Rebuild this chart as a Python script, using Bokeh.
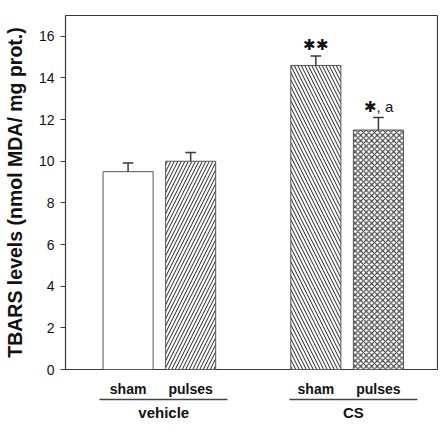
from bokeh.plotting import figure
from bokeh.models import Range1d, FixedTicker, ColumnDataSource, LinearAxis
from bokeh.core.properties import value
from bokeh.embed import file_html
from bokeh.resources import INLINE

# ---- data ----
treatments = ["sham", "pulses", "sham", "pulses"]
groups = ["vehicle", "CS"]
x_pos = [1, 2, 4, 5]
group_x = [1.57, 4.6]
group_span = [(0.55, 2.59), (3.58, 5.62)]
tbars = [9.5, 10.0, 14.6, 11.5]
sem = [0.42, 0.42, 0.45, 0.6]
hatches = [" ", "right_diagonal_line", "left_diagonal_line", "diagonal_cross"]
hatch_scales = [7, 7, 7, 5.5]
sig_labels = ["", "", "\u2731\u2731", "\u2731, a"]
y_ticks = [0, 2, 4, 6, 8, 10, 12, 14, 16]
y_label = "TBARS levels (nmol MDA/ mg prot.)"

FONT = "Liberation Sans"
GREY = "#3a3a3a"
TXT = "#111111"

p = figure(width=438, height=423, output_backend="svg", toolbar_location=None,
           x_range=Range1d(0, 5.96), y_range=Range1d(0, 17),
           min_border_left=65, min_border_right=0, min_border_top=15, min_border_bottom=54)
p.outline_line_color = GREY
p.outline_line_width = 1.2
p.grid.visible = False
p.background_fill_color = "white"
p.border_fill_color = "white"

# y axis
yax = p.yaxis[0]
yax.ticker = FixedTicker(ticks=y_ticks)
yax.axis_line_color = GREY
yax.major_tick_line_color = GREY
yax.major_tick_in = 0
yax.major_tick_out = 5
yax.minor_tick_line_color = None
yax.major_label_text_font = FONT
yax.major_label_text_font_size = "14px"
yax.major_label_text_color = TXT
yax.major_label_standoff = 6
yax.axis_label = y_label
yax.axis_label_text_font = FONT
yax.axis_label_text_font_style = "bold"
yax.axis_label_text_font_size = "19.5px"
yax.axis_label_text_color = TXT
yax.axis_label_standoff = 10

# x axis: treatment names
xax = p.xaxis[0]
xax.ticker = FixedTicker(ticks=x_pos)
xax.major_label_overrides = {x: t for x, t in zip(x_pos, treatments)}
xax.axis_line_color = None
xax.major_tick_line_color = None
xax.major_tick_in = 0
xax.major_tick_out = 0
xax.minor_tick_line_color = None
xax.major_label_standoff = 11
xax.major_label_text_font = FONT
xax.major_label_text_font_style = "bold"
xax.major_label_text_font_size = "14px"
xax.major_label_text_color = TXT

# group underlines (axis rules bounded to each group)
for span in group_span:
    ax = LinearAxis(ticker=FixedTicker(ticks=[]), bounds=span, axis_line_color="#444444",
                    axis_line_width=1.5, major_tick_line_color=None, minor_tick_line_color=None,
                    major_tick_in=0, major_tick_out=0, minor_tick_out=0, major_label_standoff=0,
                    major_label_text_font_size="0px")
    p.add_layout(ax, "below")

# group names
gax = LinearAxis(ticker=FixedTicker(ticks=group_x),
                 major_label_overrides={x: g for x, g in zip(group_x, groups)},
                 axis_line_color=None, major_tick_line_color=None, minor_tick_line_color=None,
                 major_tick_in=0, major_tick_out=0, minor_tick_out=0, major_label_standoff=4,
                 major_label_text_font=FONT, major_label_text_font_style="bold",
                 major_label_text_font_size="15px", major_label_text_color=TXT)
p.add_layout(gax, "below")

src = ColumnDataSource(dict(x=x_pos, top=tbars, err=[t + s for t, s in zip(tbars, sem)],
                            hatch=hatches, hs=hatch_scales, sig=sig_labels,
                            cl=[x - 0.085 for x in x_pos], cr=[x + 0.085 for x in x_pos],
                            sigy=[t + s + 0.55 for t, s in zip(tbars, sem)]))

p.vbar(x="x", top="top", bottom=0, width=0.8, source=src, fill_color="white",
       line_color="#555555", line_width=1, hatch_pattern="hatch",
       hatch_color="#222222", hatch_scale="hs", hatch_weight=1)

# error bars (upper only)
p.segment(x0="x", y0="top", x1="x", y1="err", source=src, line_color=GREY, line_width=1.5)
p.segment(x0="cl", y0="err", x1="cr", y1="err", source=src, line_color=GREY, line_width=1.5)

# significance labels
p.text(x="x", y="sigy", text="sig", source=src, text_align="center", text_baseline="middle",
       text_font=value(FONT), text_font_size="15px", text_color=TXT)

open("out.html", "w").write(file_html(p, INLINE))
